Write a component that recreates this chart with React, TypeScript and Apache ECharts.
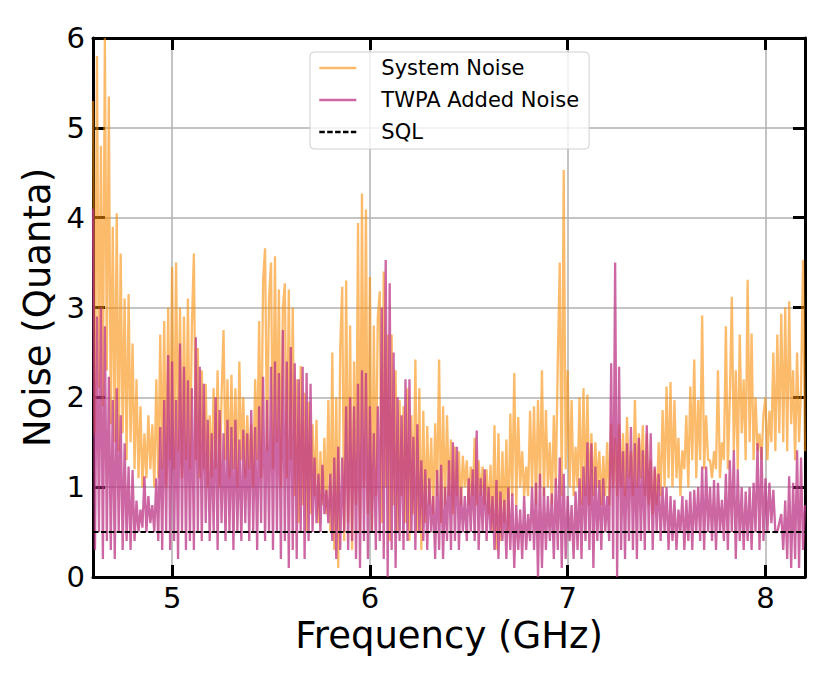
import React, { useEffect, useRef } from "react";
import * as echarts from "echarts";

const FREQ_START = 4.6;
const FREQ_STEP = 0.01;

// System Noise (quanta), one value per 0.01 GHz from 4.60 to 8.20 GHz
const systemNoise = [
  5.3, 1.6, 5.8, 2.1, 4.8, 1.9, 6.0, 2.3, 5.35, 1.7,
  3.9, 1.5, 4.05, 1.4, 3.6, 1.6, 3.1, 1.3, 3.15, 1.5,
  2.6, 1.2, 2.2, 1.1, 1.9, 1.0, 1.6, 1.1, 1.8, 1.2,
  1.7, 1.0, 2.2, 1.1, 2.7, 1.2, 2.85, 1.0, 3.0, 1.3,
  3.45, 1.2, 3.5, 1.4, 3.0, 1.1, 2.9, 1.3, 3.1, 1.2,
  2.8, 3.6, 1.3, 2.55, 1.1, 2.3, 1.2, 2.15, 1.0, 1.8,
  1.1, 2.1, 1.2, 2.3, 1.0, 2.0, 2.75, 1.3, 2.2, 1.1,
  2.25, 1.2, 2.1, 1.0, 2.4, 1.3, 2.0, 1.1, 1.8, 1.2,
  1.7, 1.0, 2.2, 1.3, 2.85, 1.1, 3.3, 3.66, 1.4, 3.1,
  3.5, 1.2, 3.57, 1.5, 3.2, 1.0, 3.0, 3.27, 1.1, 3.2,
  1.3, 3.0, 0.9, 2.2, 0.6, 2.35, 0.8, 2.05, 0.5, 1.95,
  0.7, 1.7, 0.9, 1.75, 0.6, 1.4, 0.8, 1.55, 0.7, 1.97,
  0.5, 2.5, 0.3, 2.0, 0.1, 2.55, 3.23, 0.4, 3.3, 0.6,
  2.8, 0.3, 2.4, 0.8, 3.94, 0.5, 4.27, 1.0, 4.09, 0.7,
  3.34, 0.5, 2.8, 0.9, 2.9, 3.18, 0.6, 3.4, 1.0, 2.7,
  0.4, 2.7, 0.8, 2.3, 0.5, 1.97, 0.9, 1.9, 0.6, 2.1,
  0.4, 1.8, 0.7, 2.42, 0.5, 2.1, 0.3, 1.85, 0.6, 1.68,
  0.8, 1.55, 0.7, 1.71, 0.9, 2.42, 0.6, 1.9, 0.8, 1.8,
  0.9, 1.53, 0.7, 1.45, 0.9, 1.4, 0.8, 1.35, 1.0, 1.3,
  0.8, 1.23, 0.9, 1.55, 0.8, 1.3, 0.9, 1.23, 0.8, 1.2,
  0.7, 1.25, 0.5, 1.69, 0.3, 1.6, 0.4, 1.4, 0.6, 1.53,
  0.5, 1.82, 0.9, 2.27, 0.8, 1.78, 1.0, 1.4, 0.9, 1.23,
  0.9, 1.85, 1.0, 1.9, 0.8, 1.97, 1.0, 2.3, 0.9, 1.86,
  1.0, 1.5, 0.8, 1.8, 1.0, 2.4, 3.5, 0.9, 4.53, 1.2,
  2.3, 1.0, 1.97, 0.9, 1.45, 1.0, 2.0, 0.8, 2.1, 0.9,
  2.03, 0.8, 1.6, 0.9, 1.5, 1.0, 1.4, 0.8, 1.35, 0.9,
  1.5, 0.8, 1.7, 1.0, 1.55, 0.9, 1.7, 1.0, 1.6, 0.9,
  1.78, 1.1, 1.4, 0.9, 1.97, 1.0, 1.6, 1.1, 1.69, 0.9,
  1.6, 0.8, 1.3, 0.7, 1.2, 0.8, 1.5, 0.9, 1.86, 1.0,
  2.12, 1.1, 2.17, 1.0, 1.97, 1.1, 1.55, 0.9, 1.41, 1.2,
  1.8, 1.0, 2.12, 1.3, 2.42, 1.1, 1.97, 1.3, 2.91, 1.2,
  1.8, 1.3, 1.3, 1.1, 1.4, 1.2, 2.3, 1.1, 1.5, 1.3,
  2.79, 1.2, 2.0, 3.12, 1.4, 2.3, 1.2, 2.7, 1.6, 2.2,
  1.3, 3.31, 1.5, 2.71, 1.3, 2.0, 1.4, 1.6, 1.3, 1.8,
  2.0, 1.3, 1.85, 1.5, 2.5, 1.4, 2.7, 1.6, 2.93, 1.5,
  3.0, 1.4, 3.07, 1.7, 2.3, 1.3, 2.5, 1.5, 2.1, 3.53,
  1.4,
];

// TWPA Added Noise (quanta), same frequency grid
const twpaNoise = [
  4.1, 0.3, 2.9, 0.5, 3.0, 0.2, 2.79, 0.4, 2.23, 0.3,
  1.97, 0.2, 2.1, 0.5, 1.8, 0.3, 1.49, 0.4, 1.23, 0.3,
  1.19, 0.4, 0.85, 0.5, 0.75, 0.55, 1.12, 0.5, 0.9, 0.6,
  0.8, 0.5, 1.1, 0.4, 1.67, 0.3, 1.97, 0.5, 2.47, 0.3,
  2.4, 0.4, 1.97, 0.2, 2.6, 0.5, 2.34, 0.3, 2.19, 0.4,
  2.1, 0.3, 2.67, 0.5, 2.34, 0.4, 2.15, 0.6, 1.75, 0.4,
  1.6, 0.5, 2.0, 0.3, 1.86, 0.6, 1.6, 0.4, 1.75, 0.5,
  1.67, 0.3, 1.75, 0.5, 1.53, 0.4, 1.64, 0.6, 1.6, 0.4,
  1.86, 0.5, 1.67, 0.3, 1.9, 0.6, 2.23, 0.4, 1.97, 0.5,
  2.34, 0.3, 2.4, 0.5, 2.27, 0.2, 2.75, 0.4, 2.4, 0.1,
  2.56, 0.3, 2.38, 0.2, 2.2, 0.5, 2.34, 0.2, 2.27, 0.4,
  2.15, 0.5, 1.33, 0.6, 1.15, 0.5, 1.25, 0.7, 0.97, 0.6,
  1.15, 0.4, 1.33, 0.2, 1.45, 0.3, 1.33, 0.5, 1.9, 0.3,
  2.0, 0.4, 1.9, 0.2, 2.15, 0.1, 2.3, 0.4, 2.27, 0.2,
  1.9, 0.5, 1.6, 0.3, 1.9, 0.4, 3.0, 0.2, 3.53, 0.0,
  3.27, 0.3, 2.5, 0.1, 2.0, 0.4, 1.8, 0.3, 2.2, 0.4,
  2.2, 0.5, 1.56, 0.3, 1.7, 0.5, 1.3, 0.4, 1.2, 0.3,
  1.1, 0.5, 0.9, 0.2, 1.19, 0.3, 1.25, 0.2, 1.0, 0.4,
  1.3, 0.3, 1.5, 0.4, 1.45, 0.3, 1.0, 0.5, 0.9, 0.4,
  1.1, 0.5, 1.2, 0.4, 1.63, 0.3, 1.1, 0.5, 1.2, 0.4,
  1.0, 0.5, 0.9, 0.3, 1.08, 0.2, 0.95, 0.4, 0.86, 0.2,
  1.0, 0.3, 0.93, 0.1, 0.8, 0.3, 0.75, 0.2, 0.9, 0.3,
  0.7, 0.4, 1.0, 0.3, 1.05, 0.0, 1.15, 0.1, 1.0, 0.3,
  0.9, 0.4, 0.93, 0.2, 1.1, 0.3, 1.33, 0.1, 1.15, 0.2,
  0.9, 0.4, 0.8, 0.2, 0.95, 0.3, 1.1, 0.2, 1.23, 0.4,
  1.5, 0.3, 1.49, 0.1, 1.23, 0.4, 1.08, 0.3, 1.1, 0.5,
  0.9, 0.4, 2.38, 0.2, 3.5, 0.0, 2.34, 0.3, 1.4, 0.2,
  1.49, 0.4, 1.67, 0.3, 1.49, 0.2, 1.55, 0.4, 1.41, 0.3,
  1.69, 0.5, 1.6, 0.3, 1.23, 0.5, 1.15, 0.4, 1.0, 0.5,
  1.0, 0.3, 0.9, 0.4, 0.86, 0.3, 0.75, 0.5, 0.9, 0.3,
  0.86, 0.4, 0.95, 0.3, 0.97, 0.5, 1.0, 0.4, 1.23, 0.3,
  1.23, 0.5, 1.0, 0.4, 1.08, 0.3, 1.05, 0.5, 0.86, 0.4,
  1.15, 0.3, 1.3, 0.5, 1.41, 0.2, 1.2, 0.4, 1.0, 0.3,
  0.95, 0.4, 1.0, 0.3, 1.05, 0.5, 1.49, 0.3, 1.45, 0.4,
  1.1, 0.5, 1.05, 0.6, 0.97, 0.5, 0.5, 0.6, 0.7, 0.3,
  0.85, 0.2, 1.12, 0.1, 1.05, 0.2, 1.41, 0.1, 1.33, 0.3,
  0.8,
];

const SQL_LEVEL = 0.5;
const X_MIN = 4.6;
const X_MAX = 8.2;
const xTickValues = [5, 6, 7, 8];
const Y_MIN = 0;
const Y_MAX = 6;

const FONT = "DejaVu Sans";

export default function App() {
  const ref = useRef<HTMLDivElement>(null);

  useEffect(() => {
    document.body.style.margin = "0";
    const chart = echarts.init(ref.current as HTMLDivElement, null, { renderer: "svg" });
    const toPairs = (arr: number[]) =>
      arr.map((v, i) => [Number((FREQ_START + i * FREQ_STEP).toFixed(2)), v]);

    const frameLine = { show: true, onZero: false, lineStyle: { color: "#000", width: 3 } };
    const tick = { show: true, inside: true, length: 12, lineStyle: { color: "#000", width: 3 } };

    chart.setOption({
      animation: false,
      backgroundColor: "#ffffff",
      grid: { left: 93, right: 26, top: 38, bottom: 105, containLabel: false },
      legend: {
        orient: "vertical",
        left: 310,
        top: 52,
        padding: [4, 10, 5, 8],
        itemWidth: 37,
        itemHeight: 14,
        itemGap: 8,
        backgroundColor: "rgba(255,255,255,0.8)",
        borderColor: "#d0d0d0",
        borderWidth: 1,
        borderRadius: 4,
        itemStyle: { opacity: 0 },
        lineStyle: { width: 2.6 },
        textStyle: { color: "#000", fontSize: 21, fontFamily: FONT, padding: [0, 0, 0, 20], lineHeight: 24 },
        data: ["System Noise", "TWPA Added Noise", "SQL"],
      },
      xAxis: [
        {
          type: "value",
          min: X_MIN,
          max: X_MAX,
          position: "bottom",
          axisLine: frameLine,
          axisTick: { ...tick, customValues: xTickValues },
          axisLabel: { customValues: xTickValues, color: "#000", fontSize: 29, fontFamily: FONT, margin: 6 },
          splitLine: { show: true, lineStyle: { color: "#b0b0b0", width: 1.5 } },
          name: "Frequency (GHz)",
          nameLocation: "middle",
          nameGap: 35,
          nameTextStyle: { color: "#000", fontSize: 37, fontFamily: FONT },
        },
        {
          type: "value",
          min: X_MIN,
          max: X_MAX,
          position: "top",
          axisLine: frameLine,
          axisTick: { ...tick, customValues: xTickValues },
          axisLabel: { show: false },
          splitLine: { show: false },
        },
      ],
      yAxis: [
        {
          type: "value",
          min: Y_MIN,
          max: Y_MAX,
          interval: 1,
          position: "left",
          axisLine: frameLine,
          axisTick: tick,
          axisLabel: { color: "#000", fontSize: 29, fontFamily: FONT, margin: 8 },
          splitLine: { show: true, lineStyle: { color: "#b0b0b0", width: 1.5 } },
          name: "Noise (Quanta)",
          nameLocation: "middle",
          nameGap: 36,
          nameTextStyle: { color: "#000", fontSize: 37, fontFamily: FONT },
        },
        {
          type: "value",
          min: Y_MIN,
          max: Y_MAX,
          interval: 1,
          position: "right",
          axisLine: frameLine,
          axisTick: tick,
          axisLabel: { show: false },
          splitLine: { show: false },
        },
      ],
      series: [
        {
          name: "System Noise",
          type: "line",
          xAxisIndex: 0,
          yAxisIndex: 0,
          data: toPairs(systemNoise),
          showSymbol: false,
          symbol: "none",
          clip: true,
          color: "#f98e09",
          lineStyle: { color: "#f98e09", width: 2.3, opacity: 0.6 },
          z: 2,
        },
        {
          name: "TWPA Added Noise",
          type: "line",
          xAxisIndex: 0,
          yAxisIndex: 0,
          data: toPairs(twpaNoise),
          showSymbol: false,
          symbol: "none",
          clip: true,
          color: "#bc3485",
          lineStyle: { color: "#bc3485", width: 2.3, opacity: 0.75 },
          z: 3,
        },
        {
          name: "SQL",
          type: "line",
          xAxisIndex: 0,
          yAxisIndex: 0,
          data: [
            [X_MIN, SQL_LEVEL],
            [X_MAX, SQL_LEVEL],
          ],
          showSymbol: false,
          symbol: "none",
          color: "#000",
          lineStyle: { color: "#000", width: 2, type: [5.5, 2.4] },
          z: 4,
        },
      ],
    });
    return () => chart.dispose();
  }, []);

  return <div ref={ref} style={{ width: 831, height: 682 }} />;
}
